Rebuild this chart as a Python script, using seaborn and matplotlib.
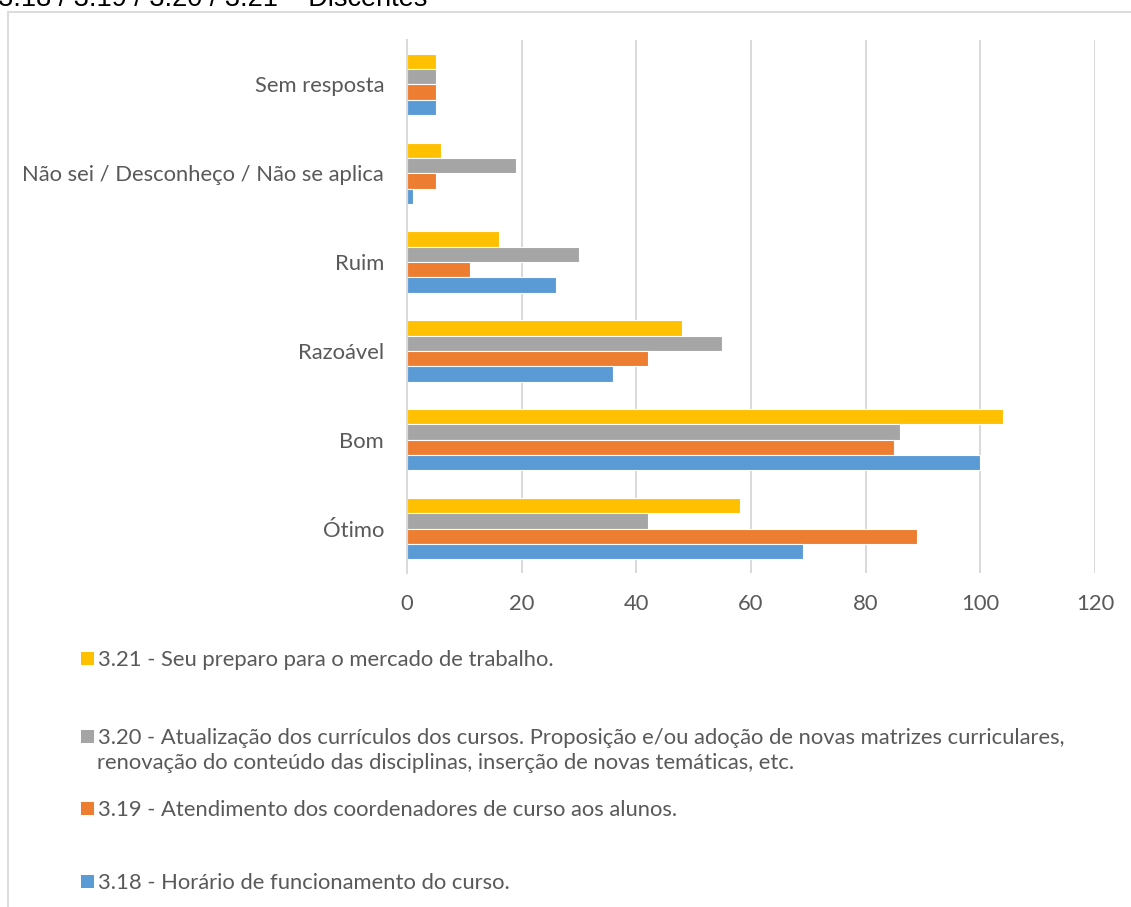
import matplotlib
matplotlib.use("Agg")
import matplotlib.pyplot as plt
from matplotlib.patches import Rectangle
from matplotlib.lines import Line2D
import seaborn as sns
import pandas as pd

categories = ["Sem resposta", "Não sei / Desconheço / Não se aplica", "Ruim",
              "Razoável", "Bom", "Ótimo"]
s318 = [5, 1, 26, 36, 100, 69]
s319 = [5, 5, 11, 42, 85, 89]
s320 = [5, 19, 30, 55, 86, 42]
s321 = [5, 6, 16, 48, 104, 58]

series_names = ["3.21", "3.20", "3.19", "3.18"]
series_values = [s321, s320, s319, s318]
series_labels = [
    ["3.21 - Seu preparo para o mercado de trabalho."],
    ["3.20 - Atualização dos currículos dos cursos. Proposição e/ou adoção de novas matrizes curriculares,",
     "renovação do conteúdo das disciplinas, inserção de novas temáticas, etc."],
    ["3.19 - Atendimento dos coordenadores de curso aos alunos."],
    ["3.18 - Horário de funcionamento do curso."],
]
colors = ["#FFC000", "#A5A5A5", "#ED7D31", "#5B9BD5"]
xticks = [0, 20, 40, 60, 80, 100, 120]
title = "3.18 / 3.19 / 3.20 / 3.21 – Discentes"

rows = []
for name, vals in zip(series_names, series_values):
    for c, v in zip(categories, vals):
        rows.append({"cat": c, "serie": name, "val": v})
df = pd.DataFrame(rows)

sns.set_theme(style="white")
plt.rcParams["font.family"] = ["Lato", "DejaVu Sans"]
TXT = "#595959"
FS = 15.8

W, H = 1131, 907
fig = plt.figure(figsize=(W / 100, H / 100), dpi=100)
ax = fig.add_axes([407 / W, 1 - 573 / H, (1095 - 407) / W, (573 - 40) / H])

sns.barplot(data=df, x="val", y="cat", hue="serie", order=categories,
            hue_order=series_names, palette=colors, orient="h", width=0.69,
            gap=0, edgecolor="white", linewidth=0.8, legend=False, ax=ax,
            saturation=1, errorbar=None)

ax.set_xlim(0, 120)
ax.set_ylim(5.5, -0.5)
ax.set_xticks(xticks)
ax.set_xticklabels([str(t) for t in xticks])
ax.grid(axis="x", color="#D9D9D9", linewidth=1.4)
ax.grid(axis="y", visible=False)
ax.set_axisbelow(True)
for s in ["top", "right", "bottom"]:
    ax.spines[s].set_visible(False)
ax.spines["left"].set_color("#D9D9D9")
ax.spines["left"].set_linewidth(1.4)
ax.tick_params(axis="both", length=0, labelsize=FS, labelcolor=TXT)
ax.tick_params(axis="x", pad=15)
ax.tick_params(axis="y", pad=16.5)
ax.set_xlabel("")
ax.set_ylabel("")

# chart frame
fig.add_artist(Line2D([8 / W, 8 / W], [0, 1 - 11.5 / H], color="#D9D9D9", lw=1.3))
fig.add_artist(Line2D([8 / W, 1], [1 - 11.5 / H, 1 - 11.5 / H], color="#D9D9D9", lw=1.3))

# title (partly cut off at top)
fig.text(-2 / W, 1 - 6 / H, title, fontsize=19.5, color="black",
         family=["Liberation Sans", "DejaVu Sans"], va="baseline", ha="left")

# legend
leg_y = [658, 736, 808, 881]
for lines, col, yc in zip(series_labels, colors, leg_y):
    fig.add_artist(Rectangle((81 / W, 1 - (yc + 6.5) / H), 13 / W, 13 / H,
                             facecolor=col, edgecolor="none",
                             transform=fig.transFigure))
    for i, ln in enumerate(lines):
        fig.text((98 if i == 0 else 97) / W, 1 - (yc + 25 * i) / H, ln,
                 fontsize=FS, color=TXT, va="center_baseline", ha="left")

fig.savefig("out.png", dpi=100)
